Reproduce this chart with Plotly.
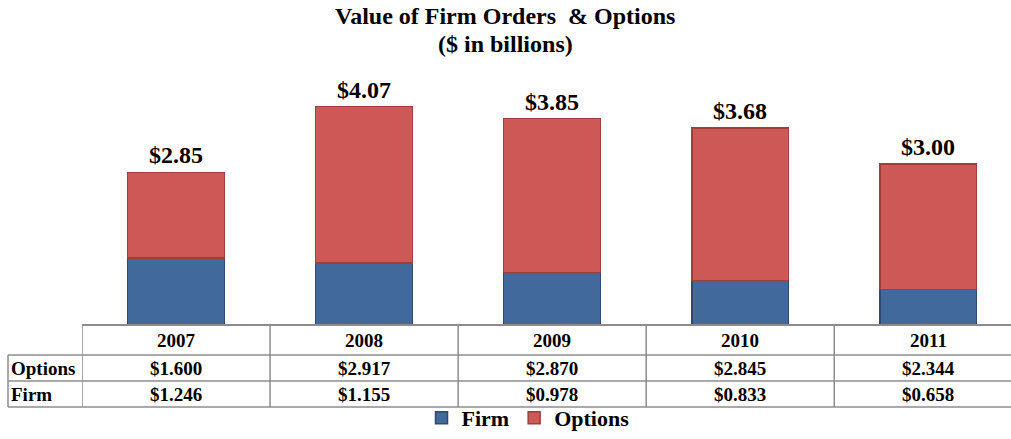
import plotly.graph_objects as go

years = ["2007", "2008", "2009", "2010", "2011"]
firm = [1.246, 1.155, 0.978, 0.833, 0.658]
options = [1.600, 2.917, 2.870, 2.845, 2.344]
series_names = ["Firm", "Options"]
title_lines = ["Value of Firm Orders  & Options", "($ in billions)"]

W, H = 1011, 439
FONT = "Liberation Serif"
px = lambda y: 1 - y / H  # pixel-from-top to paper y

xs = list(range(len(years)))
totals = [f + o for f, o in zip(firm, options)]

fig = go.Figure()
fig.add_trace(go.Bar(
    x=xs, y=firm, name=f"<b>{series_names[0]}</b>",
    marker=dict(color="#41699B", line=dict(color="#2C4A73", width=1.5)),
    width=0.515,
))
fig.add_trace(go.Bar(
    x=xs, y=options, name=f"<b>{series_names[1]}</b>",
    marker=dict(color="#CD5956", line=dict(color="#9E3F3D", width=1.5)),
    width=0.515,
))

annotations = []
# totals above bars
for i, t in enumerate(totals):
    annotations.append(dict(
        x=i, y=t, xref="x", yref="y", text=f"<b>${t:.2f}</b>",
        showarrow=False, yanchor="bottom", yshift=2,
        font=dict(family=FONT, size=24, color="#000"),
    ))

# title (two lines placed separately for tight line spacing)
for line, yc in zip(title_lines, [16, 44]):
    annotations.append(dict(
        x=505 / W, y=px(yc), xref="paper", yref="paper", xanchor="center", yanchor="middle",
        text=f"<b>{line}</b>", showarrow=False,
        font=dict(family=FONT, size=24, color="#000"),
    ))

# table rows
row_top = [325, 355, 381, 407]
row_mid = [(row_top[k] + row_top[k + 1]) / 2 for k in range(3)]
tfont = dict(family=FONT, size=19, color="#000")
for i, yr in enumerate(years):
    for text, rm in [(yr, row_mid[0]), (f"${options[i]:.3f}", row_mid[1]),
                     (f"${firm[i]:.3f}", row_mid[2])]:
        annotations.append(dict(x=i, y=px(rm), xref="x", yref="paper",
                                xanchor="center", yanchor="middle",
                                text=f"<b>{text}</b>", showarrow=False, font=tfont))
for name, rm in [(series_names[1], row_mid[1]), (series_names[0], row_mid[2])]:
    annotations.append(dict(x=9 / W, y=px(rm), xref="paper", yref="paper",
                            xanchor="left", yanchor="middle",
                            text=f"<b>{name}</b>", showarrow=False, font=tfont))

shapes = []
lc = dict(color="#8C8C8C", width=1.5)
left = 8 / W
colx = 82 / W
# horizontal lines
for k, y in enumerate(row_top):
    x0 = colx if k == 0 else left
    shapes.append(dict(type="line", xref="paper", yref="paper",
                       x0=x0, x1=1, y0=px(y), y1=px(y),
                       line=dict(color="#8C8C8C", width=2 if k == 0 else 1.5)))
# vertical lines
shapes.append(dict(type="line", xref="paper", yref="paper",
                   x0=left, x1=left, y0=px(row_top[1]), y1=px(row_top[3]), line=lc))
for b in range(len(years)):
    xb = b - 0.5
    shapes.append(dict(type="line", xref="x", yref="paper",
                       x0=xb, x1=xb, y0=px(row_top[0]), y1=px(row_top[3]), line=lc))

fig.update_layout(
    width=W, height=H,
    margin=dict(l=0, r=0, t=0, b=0),
    paper_bgcolor="white", plot_bgcolor="white",
    barmode="stack",
    showlegend=True,
    legend=dict(orientation="h", x=528 / W, xanchor="center", y=0, yanchor="bottom",
                font=dict(family=FONT, size=22, color="#000"),
                itemwidth=30, traceorder="normal", bgcolor="rgba(0,0,0,0)"),
    xaxis=dict(domain=[colx, 1], range=[-0.5, 4.44], showticklabels=False,
               showgrid=False, zeroline=False, showline=False, ticks=""),
    yaxis=dict(domain=[px(325), 1], range=[0, 6.06], showticklabels=False,
               showgrid=False, zeroline=False, showline=False, ticks=""),
    annotations=annotations,
    shapes=shapes,
)

fig.write_html("out.html", config={"displayModeBar": False},
               post_script="document.body.style.margin='0';")
